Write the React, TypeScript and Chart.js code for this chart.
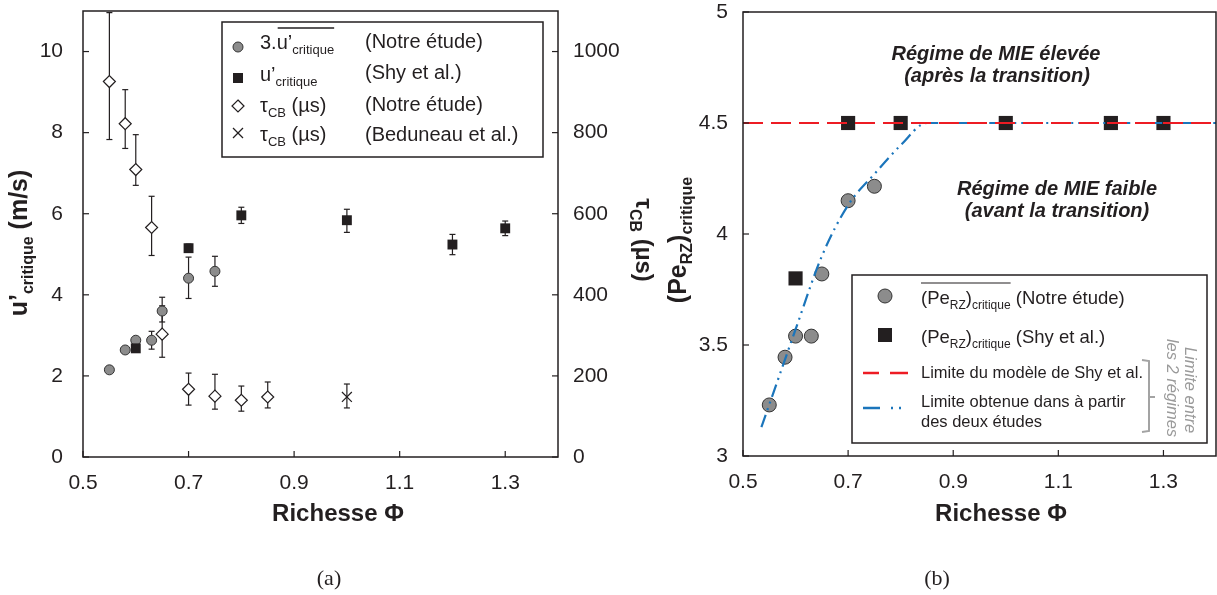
import React, { useEffect, useRef } from 'react';
import { Chart, registerables } from 'chart.js';
Chart.register(...registerables);

const FONT = 'Liberation Sans, Arial, sans-serif';
const SERIF = 'Liberation Serif, DejaVu Serif, serif';
const INK = '#231f20';
const GREY_FILL = '#8c8c8c';
const RED = '#ed1c24';
const BLUE = '#1b75bb';

// ---------- shared ticks ----------
const phiTicks = [0.5, 0.7, 0.9, 1.1, 1.3];
const uTicks = [0, 2, 4, 6, 8, 10];
const tauTicks = [0, 200, 400, 600, 800, 1000];
const peTicks = [3, 3.5, 4, 4.5, 5];

// ---------- (a) data ----------
const uNotrePhi = [0.55, 0.58, 0.6, 0.63, 0.65, 0.7, 0.75];
const uNotreVal = [2.15, 2.64, 2.88, 2.88, 3.6, 4.41, 4.58];
const uNotreErrHi = [0, 0, 0, 0.22, 0.34, 0.52, 0.37];
const uNotreErrLo = [0, 0, 0, 0.22, 0.27, 0.5, 0.37];

const uShyPhi = [0.6, 0.7, 0.8, 1.0, 1.2, 1.3];
const uShyVal = [2.68, 5.15, 5.96, 5.84, 5.24, 5.64];
const uShyErrHi = [0, 0.1, 0.2, 0.27, 0.25, 0.18];
const uShyErrLo = [0, 0.1, 0.2, 0.3, 0.25, 0.18];

const tauNotrePhi = [0.55, 0.58, 0.6, 0.63, 0.65, 0.7, 0.75, 0.8, 0.85];
const tauNotreVal = [926, 822, 709, 566, 303, 167, 150, 140, 148];
const tauNotreErrHi = [170, 84, 86, 77, 70, 40, 54, 35, 37];
const tauNotreErrLo = [143, 61, 39, 69, 57, 39, 32, 27, 27];

const tauBedPhi = [1.0];
const tauBedVal = [148];
const tauBedErrHi = [32];
const tauBedErrLo = [27];

// ---------- (b) data ----------
const peNotrePhi = [0.55, 0.58, 0.6, 0.63, 0.65, 0.7, 0.75];
const peNotreVal = [3.23, 3.445, 3.54, 3.54, 3.82, 4.15, 4.215];
const peShyPhi = [0.6, 0.7, 0.8, 1.0, 1.2, 1.3];
const peShyVal = [3.8, 4.5, 4.5, 4.5, 4.5, 4.5];
const shyLimitPhi = [0.5, 1.4];
const shyLimitVal = [4.5, 4.5];
const limitPhi = [0.535, 0.6, 0.65, 0.7, 0.75, 0.8, 0.85, 1.4];
const limitVal = [3.13, 3.57, 3.9, 4.13, 4.27, 4.4, 4.5, 4.5];

const pts = (xs: number[], ys: number[]) => xs.map((x, i) => ({ x, y: ys[i] }));

// ---------- drawing helpers ----------
type Part = { t: string; size: number; weight?: string; style?: string; dy?: number; family?: string };
const fontOf = (p: Part) => `${p.style || 'normal'} ${p.weight || 'normal'} ${p.size}px ${p.family || FONT}`;

function drawParts(ctx: CanvasRenderingContext2D, x: number, y: number, parts: Part[], align = 'left', color = INK) {
  ctx.textBaseline = 'alphabetic';
  ctx.textAlign = 'left';
  ctx.fillStyle = color;
  const widths = parts.map((p) => {
    ctx.font = fontOf(p);
    return ctx.measureText(p.t).width;
  });
  const total = widths.reduce((a, b) => a + b, 0);
  let cx = align === 'left' ? x : align === 'center' ? x - total / 2 : x - total;
  const segs: [number, number][] = [];
  parts.forEach((p, i) => {
    ctx.font = fontOf(p);
    ctx.fillText(p.t, cx, y + (p.dy || 0));
    segs.push([cx, cx + widths[i]]);
    cx += widths[i];
  });
  return segs;
}

function rotParts(ctx: CanvasRenderingContext2D, x: number, y: number, angle: number, parts: Part[], color = INK) {
  ctx.save();
  ctx.translate(x, y);
  ctx.rotate(angle);
  drawParts(ctx, 0, 0, parts, 'center', color);
  ctx.restore();
}

function line(ctx: CanvasRenderingContext2D, x1: number, y1: number, x2: number, y2: number) {
  ctx.beginPath();
  ctx.moveTo(x1, y1);
  ctx.lineTo(x2, y2);
  ctx.stroke();
}

// ---------- plugins ----------
const errorBars = {
  id: 'errorBars',
  beforeDatasetsDraw(chart: any) {
    const ctx = chart.ctx;
    ctx.save();
    ctx.strokeStyle = INK;
    ctx.lineWidth = 1.2;
    chart.data.datasets.forEach((ds: any, i: number) => {
      if (!ds.errHi) return;
      const meta = chart.getDatasetMeta(i);
      const xs = chart.scales[meta.xAxisID];
      const ys = chart.scales[meta.yAxisID];
      ds.data.forEach((pt: any, j: number) => {
        const hi = ds.errHi[j];
        const lo = ds.errLo[j];
        if (!hi && !lo) return;
        const x = xs.getPixelForValue(pt.x);
        const y1 = ys.getPixelForValue(pt.y + hi);
        const y2 = ys.getPixelForValue(pt.y - lo);
        line(ctx, x, y1, x, y2);
        line(ctx, x - 3, y1, x + 3, y1);
        line(ctx, x - 3, y2, x + 3, y2);
      });
    });
    ctx.restore();
  },
};

const frame = {
  id: 'frame',
  afterDraw(chart: any) {
    const { ctx, chartArea: a } = chart;
    ctx.save();
    ctx.strokeStyle = INK;
    ctx.lineWidth = 1.5;
    ctx.strokeRect(a.left, a.top, a.right - a.left, a.bottom - a.top);
    ctx.lineWidth = 1.2;
    Object.keys(chart.scales).forEach((id) => {
      const s = chart.scales[id];
      s.ticks.forEach((t: any) => {
        const p = s.getPixelForValue(t.value);
        if (s.axis === 'x') line(ctx, p, a.bottom, p, a.bottom - 6);
        else if (s.position === 'left') line(ctx, a.left, p, a.left + 6, p);
        else line(ctx, a.right, p, a.right - 6, p);
      });
    });
    ctx.restore();
  },
};

const decor = (fn: (ctx: CanvasRenderingContext2D) => void) => ({
  id: 'decor',
  afterDraw(chart: any) {
    const ctx = chart.ctx;
    ctx.save();
    fn(ctx);
    ctx.restore();
  },
});

const tickFont = { family: FONT, size: 21 };
const fixedTicks = (arr: number[]) => (s: any) => {
  s.ticks = arr.map((v) => ({ value: v }));
};
const fitTo = (w: number | null, h: number | null) => (s: any) => {
  if (w !== null) s.width = w;
  if (h !== null) s.height = h;
  s.paddingLeft = 0;
  s.paddingRight = 0;
  s.paddingTop = 0;
  s.paddingBottom = 0;
};
const axisBase = {
  type: 'linear',
  grid: { display: false, drawTicks: false },
  border: { display: false },
};

// ---------- left chart ----------
function leftConfig(): any {
  const legend = (ctx: CanvasRenderingContext2D) => {
    ctx.strokeStyle = INK;
    ctx.lineWidth = 1.5;
    ctx.strokeRect(222, 22, 321, 135);
    // markers
    ctx.lineWidth = 1;
    ctx.fillStyle = GREY_FILL;
    ctx.strokeStyle = '#333';
    ctx.beginPath();
    ctx.arc(238, 47, 5, 0, Math.PI * 2);
    ctx.fill();
    ctx.stroke();
    ctx.fillStyle = INK;
    ctx.fillRect(233, 73, 10, 10);
    ctx.fillStyle = '#fff';
    ctx.strokeStyle = INK;
    ctx.lineWidth = 1.2;
    ctx.beginPath();
    ctx.moveTo(238, 100);
    ctx.lineTo(244, 106);
    ctx.lineTo(238, 112);
    ctx.lineTo(232, 106);
    ctx.closePath();
    ctx.fill();
    ctx.stroke();
    line(ctx, 233, 128, 243, 138);
    line(ctx, 233, 138, 243, 128);
    // texts
    const s1 = drawParts(ctx, 260, 49, [
      { t: '3.', size: 20 },
      { t: 'u\u2019', size: 20 },
      { t: 'critique', size: 13, dy: 5 },
    ]);
    ctx.strokeStyle = INK;
    ctx.lineWidth = 1.3;
    line(ctx, s1[1][0] + 1, 28, s1[2][1], 28);
    drawParts(ctx, 260, 81, [
      { t: 'u\u2019', size: 20 },
      { t: 'critique', size: 13, dy: 5 },
    ]);
    const tau: Part[] = [
      { t: '\u03c4', size: 20 },
      { t: 'CB', size: 13, dy: 5 },
      { t: ' (\u00b5s)', size: 20 },
    ];
    drawParts(ctx, 260, 112, tau);
    drawParts(ctx, 260, 141, tau);
    drawParts(ctx, 365, 48, [{ t: '(Notre \u00e9tude)', size: 20 }]);
    drawParts(ctx, 365, 79, [{ t: '(Shy et al.)', size: 20 }]);
    drawParts(ctx, 365, 111, [{ t: '(Notre \u00e9tude)', size: 20 }]);
    drawParts(ctx, 365, 141, [{ t: '(Beduneau et al.)', size: 20 }]);
  };
  const titles = (ctx: CanvasRenderingContext2D) => {
    rotParts(ctx, 27, 243, -Math.PI / 2, [
      { t: 'u\u2019', size: 25, weight: 'bold' },
      { t: 'critique', size: 16, weight: 'bold', dy: 6 },
      { t: ' (m/s)', size: 25, weight: 'bold' },
    ]);
    rotParts(ctx, 636, 240, Math.PI / 2, [
      { t: '\u03c4', size: 24, weight: 'bold' },
      { t: 'CB', size: 16, weight: 'bold', dy: 6 },
      { t: ' (\u00b5s)', size: 24, weight: 'bold' },
    ]);
    drawParts(ctx, 338, 521, [{ t: 'Richesse \u03a6', size: 24, weight: 'bold' }], 'center');
    drawParts(ctx, 329, 585, [{ t: '(a)', size: 22, family: SERIF }], 'center');
  };
  return {
    type: 'scatter',
    data: {
      datasets: [
        {
          label: 'u\u2019 critique (Shy et al.)',
          data: pts(uShyPhi, uShyVal),
          errHi: uShyErrHi,
          errLo: uShyErrLo,
          yAxisID: 'y',
          pointStyle: 'rect',
          pointRadius: 7,
          backgroundColor: INK,
          borderColor: INK,
          borderWidth: 0,
        },
        {
          label: '3.u\u2019 critique (Notre \u00e9tude)',
          data: pts(uNotrePhi, uNotreVal),
          errHi: uNotreErrHi,
          errLo: uNotreErrLo,
          yAxisID: 'y',
          pointStyle: 'circle',
          pointRadius: 5,
          backgroundColor: GREY_FILL,
          borderColor: '#333',
          borderWidth: 1,
        },
        {
          label: '\u03c4CB (Notre \u00e9tude)',
          data: pts(tauNotrePhi, tauNotreVal),
          errHi: tauNotreErrHi,
          errLo: tauNotreErrLo,
          yAxisID: 'y2',
          pointStyle: 'rectRot',
          pointRadius: 6,
          backgroundColor: '#fff',
          borderColor: INK,
          borderWidth: 1.2,
        },
        {
          label: '\u03c4CB (Beduneau et al.)',
          data: pts(tauBedPhi, tauBedVal),
          errHi: tauBedErrHi,
          errLo: tauBedErrLo,
          yAxisID: 'y2',
          pointStyle: 'crossRot',
          pointRadius: 7,
          backgroundColor: INK,
          borderColor: INK,
          borderWidth: 1.2,
        },
      ],
    },
    options: {
      responsive: false,
      animation: false,
      devicePixelRatio: 1,
      layout: { autoPadding: false, padding: { top: 11, left: 0, right: 0, bottom: 0 } },
      plugins: { legend: { display: false }, tooltip: { enabled: false } },
      scales: {
        x: {
          ...axisBase,
          position: 'bottom',
          min: 0.5,
          max: 1.4,
          afterBuildTicks: fixedTicks(phiTicks),
          afterFit: fitTo(null, 138),
          ticks: { padding: 14, font: tickFont, color: INK, autoSkip: false, maxRotation: 0, callback: (v: any) => String(v) },
        },
        y: {
          ...axisBase,
          position: 'left',
          min: 0,
          max: 11,
          afterBuildTicks: fixedTicks(uTicks),
          afterFit: fitTo(83, null),
          ticks: { padding: 20, font: tickFont, color: INK, autoSkip: false, callback: (v: any) => String(v) },
        },
        y2: {
          ...axisBase,
          position: 'right',
          min: 0,
          max: 1100,
          afterBuildTicks: fixedTicks(tauTicks),
          afterFit: fitTo(102, null),
          ticks: { padding: 15, font: tickFont, color: INK, autoSkip: false, callback: (v: any) => String(v) },
        },
      },
    },
    plugins: [errorBars, frame, decor((ctx) => { legend(ctx); titles(ctx); })],
  };
}

// ---------- right chart ----------
const OX = 660;
function rightConfig(): any {
  const draw = (ctx: CanvasRenderingContext2D) => {
    // annotations
    const bi = { size: 20, weight: 'bold', style: 'italic' };
    drawParts(ctx, 996 - OX, 60, [{ t: 'R\u00e9gime de MIE \u00e9lev\u00e9e', ...bi }], 'center');
    drawParts(ctx, 997 - OX, 82, [{ t: '(apr\u00e8s la transition)', ...bi }], 'center');
    drawParts(ctx, 1057 - OX, 195, [{ t: 'R\u00e9gime de MIE faible', ...bi }], 'center');
    drawParts(ctx, 1057 - OX, 217, [{ t: '(avant la transition)', ...bi }], 'center');

    // legend box
    ctx.fillStyle = '#fff';
    ctx.fillRect(852 - OX, 275, 355, 168);
    ctx.strokeStyle = INK;
    ctx.lineWidth = 1.5;
    ctx.strokeRect(852 - OX, 275, 355, 168);
    // markers
    ctx.fillStyle = GREY_FILL;
    ctx.strokeStyle = '#333';
    ctx.lineWidth = 1;
    ctx.beginPath();
    ctx.arc(885 - OX, 296, 7, 0, Math.PI * 2);
    ctx.fill();
    ctx.stroke();
    ctx.fillStyle = INK;
    ctx.fillRect(878 - OX, 328, 14, 14);
    ctx.lineWidth = 2.5;
    ctx.strokeStyle = RED;
    line(ctx, 863 - OX, 373, 879 - OX, 373);
    line(ctx, 890 - OX, 373, 908 - OX, 373);
    ctx.strokeStyle = BLUE;
    line(ctx, 863 - OX, 408, 880 - OX, 408);
    line(ctx, 891 - OX, 408, 893 - OX, 408);
    line(ctx, 899 - OX, 408, 901 - OX, 408);
    // legend texts
    const pe: Part[] = [
      { t: '(Pe', size: 18.5 },
      { t: 'RZ', size: 12, dy: 5 },
      { t: ')', size: 18.5 },
      { t: 'critique', size: 12, dy: 5 },
    ];
    const s1 = drawParts(ctx, 921 - OX, 304, [...pe, { t: ' (Notre \u00e9tude)', size: 18.5 }]);
    ctx.strokeStyle = INK;
    ctx.lineWidth = 1.2;
    line(ctx, s1[0][0], 283, s1[3][1], 283);
    drawParts(ctx, 921 - OX, 343, [...pe, { t: ' (Shy et al.)', size: 18.5 }]);
    drawParts(ctx, 921 - OX, 378, [{ t: 'Limite du mod\u00e8le de Shy et al.', size: 16.5 }]);
    drawParts(ctx, 921 - OX, 407, [{ t: 'Limite obtenue dans \u00e0 partir', size: 16.5 }]);
    drawParts(ctx, 921 - OX, 427, [{ t: 'des deux \u00e9tudes', size: 16.5 }]);
    // bracket
    ctx.strokeStyle = '#a3a3a3';
    ctx.lineWidth = 2;
    ctx.beginPath();
    ctx.moveTo(1142 - OX, 360);
    ctx.lineTo(1149 - OX, 361);
    ctx.lineTo(1149 - OX, 431);
    ctx.lineTo(1142 - OX, 432);
    ctx.moveTo(1149 - OX, 397);
    ctx.lineTo(1155 - OX, 397);
    ctx.stroke();
    rotParts(ctx, 1185 - OX, 390, Math.PI / 2, [{ t: 'Limite entre', size: 16.5, style: 'italic' }], '#9a9a9a');
    rotParts(ctx, 1167 - OX, 388, Math.PI / 2, [{ t: 'les 2 r\u00e9gimes', size: 16.5, style: 'italic' }], '#9a9a9a');

    // axis titles
    rotParts(ctx, 686 - OX, 240, -Math.PI / 2, [
      { t: '(Pe', size: 25, weight: 'bold' },
      { t: 'RZ', size: 16, weight: 'bold', dy: 6 },
      { t: ')', size: 25, weight: 'bold' },
      { t: 'critique', size: 16, weight: 'bold', dy: 6 },
    ]);
    drawParts(ctx, 1001 - OX, 521, [{ t: 'Richesse \u03a6', size: 24, weight: 'bold' }], 'center');
    drawParts(ctx, 937 - OX, 585, [{ t: '(b)', size: 22, family: SERIF }], 'center');
  };
  return {
    type: 'scatter',
    data: {
      datasets: [
        {
          label: 'Limite du mod\u00e8le de Shy et al.',
          data: pts(shyLimitPhi, shyLimitVal),
          showLine: true,
          pointRadius: 0,
          borderColor: RED,
          borderWidth: 2.2,
          borderDash: [20, 8],
        },
        {
          label: 'Limite obtenue',
          data: pts(limitPhi, limitVal),
          showLine: true,
          pointRadius: 0,
          borderColor: BLUE,
          borderWidth: 2.2,
          borderDash: [13, 5, 2, 5, 2, 5],
          cubicInterpolationMode: 'monotone',
        },
        {
          label: '(PeRZ)critique (Shy et al.)',
          data: pts(peShyPhi, peShyVal),
          pointStyle: 'rect',
          pointRadius: 10,
          backgroundColor: INK,
          borderColor: INK,
          borderWidth: 0,
        },
        {
          label: '(PeRZ)critique (Notre \u00e9tude)',
          data: pts(peNotrePhi, peNotreVal),
          pointStyle: 'circle',
          pointRadius: 7,
          backgroundColor: GREY_FILL,
          borderColor: '#333',
          borderWidth: 1,
        },
      ],
    },
    options: {
      responsive: false,
      animation: false,
      devicePixelRatio: 1,
      layout: { autoPadding: false, padding: { top: 12, left: 0, right: 1, bottom: 0 } },
      plugins: { legend: { display: false }, tooltip: { enabled: false } },
      scales: {
        x: {
          ...axisBase,
          position: 'bottom',
          min: 0.5,
          max: 1.4,
          afterBuildTicks: fixedTicks(phiTicks),
          afterFit: fitTo(null, 139),
          ticks: { padding: 14, font: tickFont, color: INK, autoSkip: false, maxRotation: 0, callback: (v: any) => String(v) },
        },
        y: {
          ...axisBase,
          position: 'left',
          min: 3,
          max: 5,
          afterBuildTicks: fixedTicks(peTicks),
          afterFit: fitTo(83, null),
          ticks: { padding: 15, font: tickFont, color: INK, autoSkip: false, callback: (v: any) => String(v) },
        },
      },
    },
    plugins: [frame, decor(draw)],
  };
}

export default function App() {
  const leftRef = useRef<HTMLCanvasElement>(null);
  const rightRef = useRef<HTMLCanvasElement>(null);
  useEffect(() => {
    const c1 = new Chart(leftRef.current as HTMLCanvasElement, leftConfig());
    const c2 = new Chart(rightRef.current as HTMLCanvasElement, rightConfig());
    return () => {
      c1.destroy();
      c2.destroy();
    };
  }, []);
  return (
    <div style={{ position: 'fixed', left: 0, top: 0, width: 1217, height: 595, background: '#fff' }}>
      <canvas ref={leftRef} width={660} height={595} style={{ position: 'absolute', left: 0, top: 0 }} />
      <canvas ref={rightRef} width={557} height={595} style={{ position: 'absolute', left: 660, top: 0 }} />
    </div>
  );
}
